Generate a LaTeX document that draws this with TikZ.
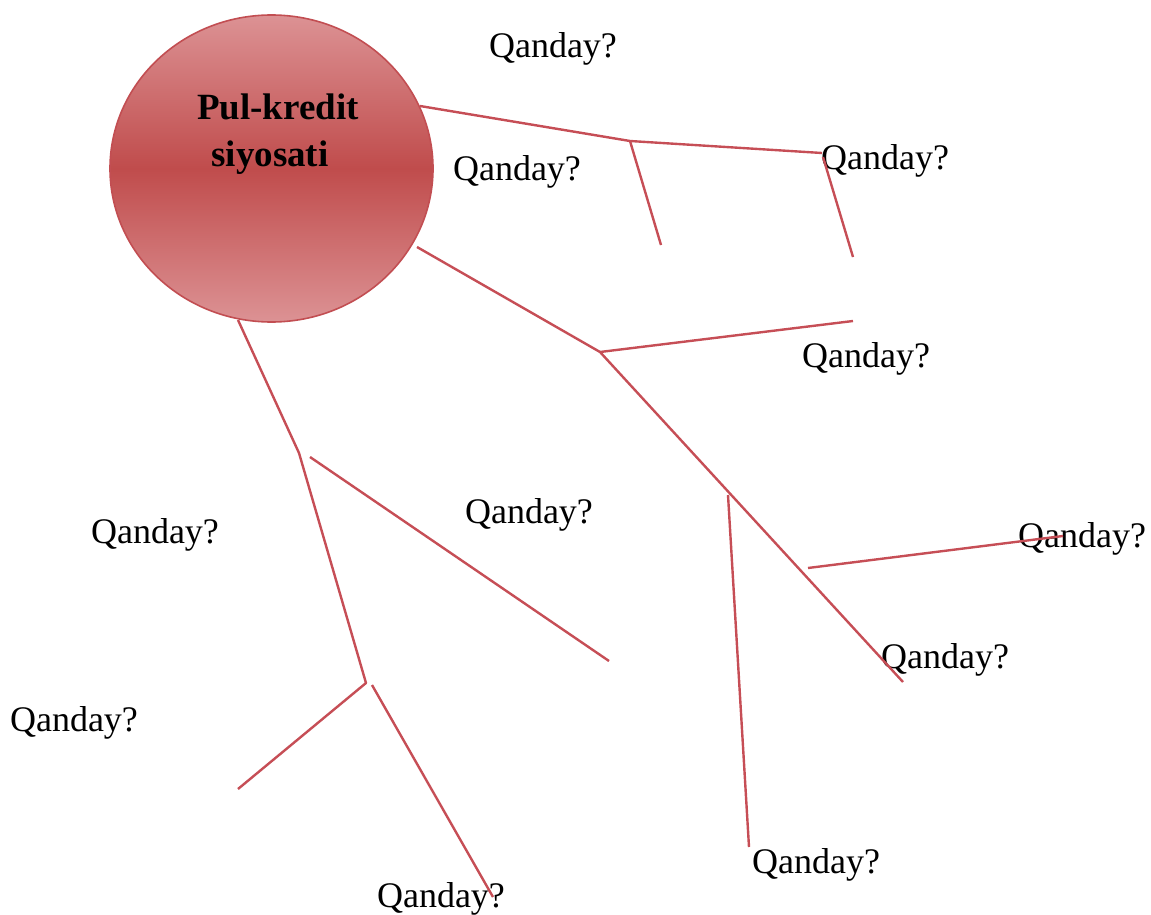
\documentclass[tikz,border=0pt]{standalone}
\usepackage{fontspec}
\setmainfont{Liberation Serif}
\usetikzlibrary{shapes.geometric}
\definecolor{linered}{RGB}{198,78,86}
\definecolor{ctop}{RGB}{220,146,148}
\definecolor{cmid}{RGB}{192,76,76}
\definecolor{cedge}{RGB}{194,78,82}
\tikzset{
  branch/.style={draw=linered, line width=2.4pt, line cap=butt, line join=round},
  lbl/.style={anchor=base, inner sep=0pt, font=\fontsize{36}{40}\selectfont},
  ttl/.style={anchor=base, inner sep=0pt, font=\fontsize{37}{40}\selectfont\bfseries},
}
\begin{document}
\begin{tikzpicture}[x=1pt,y=-1pt]
\useasboundingbox (0,0) rectangle (1151,915);
% central ellipse
\node[ellipse, minimum width=323pt, minimum height=307pt, inner sep=0pt,
      draw=cedge, line width=1.6pt, top color=ctop, bottom color=ctop, middle color=cmid]
      (c) at (271.5,168.5) {};
\node[ttl] (t1) at (278,120) {Pul-kredit};
\node[ttl] (t2) at (270,167) {siyosati};
% labels
\node[lbl] (q1) at (553,58) {Qanday?};
\node[lbl] (q2) at (517,180) {Qanday?};
\node[lbl] (q3) at (885,169) {Qanday?};
\node[lbl] (q4) at (866,367) {Qanday?};
\node[lbl] (q5) at (529,523) {Qanday?};
\node[lbl] (q6) at (155,543) {Qanday?};
\node[lbl] (q7) at (1082,547) {Qanday?};
\node[lbl] (q8) at (945,668) {Qanday?};
\node[lbl] (q9) at (74,731) {Qanday?};
\node[lbl] (q10) at (816,873) {Qanday?};
\node[lbl] (q11) at (441,907) {Qanday?};
% branch A
\coordinate (a0) at (420,106);
\coordinate (a1) at (630,141);
\coordinate (a2) at (822,153);
\coordinate (a3) at (661,245);
\coordinate (a4) at (823,157);
\coordinate (a5) at (853,257);
% branch B
\coordinate (b0) at (417,247);
\coordinate (b1) at (600,352);
\coordinate (b2) at (903,682);
\coordinate (b3) at (853,321);
\coordinate (b4) at (728,495);
\coordinate (b5) at (749,847);
\coordinate (b6) at (808,568);
\coordinate (b7) at (1063,536);
% branch C
\coordinate (c0) at (238,320);
\coordinate (c1) at (299,453);
\coordinate (c2) at (366,683);
\coordinate (c3) at (238,789);
\coordinate (c4) at (310,457);
\coordinate (c5) at (609,661);
\coordinate (c6) at (372,685);
\coordinate (c7) at (493,897);
\draw[branch] (a0) -- (a1) -- (a2);
\draw[branch] (a1) -- (a3);
\draw[branch] (a4) -- (a5);
\draw[branch] (b0) -- (b1) -- (b2);
\draw[branch] (b1) -- (b3);
\draw[branch] (b4) -- (b5);
\draw[branch] (b6) -- (b7);
\draw[branch] (c0) -- (c1) -- (c2) -- (c3);
\draw[branch] (c4) -- (c5);
\draw[branch] (c6) -- (c7);
\end{tikzpicture}
\end{document}
